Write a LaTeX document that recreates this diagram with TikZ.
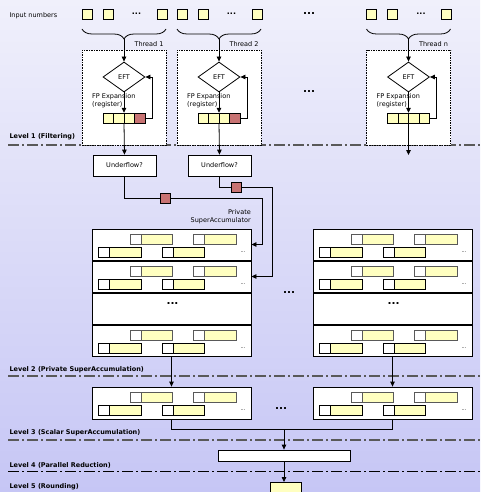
\documentclass[tikz,border=0pt]{standalone}
\usepackage{fontspec}
\setmainfont{DejaVu Sans}
\usetikzlibrary{shapes.geometric,arrows.meta,decorations.pathreplacing}
\definecolor{cellY}{RGB}{255,255,192}
\definecolor{cellR}{RGB}{200,115,115}
\definecolor{bgTop}{RGB}{240,240,251}
\definecolor{bgBot}{RGB}{198,198,245}
\begin{document}
\begin{tikzpicture}[x=1pt,y=-1pt,
  font=\fontsize{6.5}{8}\selectfont,
  arr/.style={-{Triangle[length=5pt,width=4.5pt]}, line width=0.8pt},
  conn/.style={line width=0.8pt},
  cellbox/.style={draw=black, line width=0.8pt, fill=cellY, minimum width=10pt, minimum height=10pt, inner sep=0pt},
  regcell/.style={draw=black, line width=0.8pt, fill=cellY, minimum width=10.5pt, minimum height=10pt, inner sep=0pt},
  thbox/.style={draw=black, fill=white, dash pattern=on 1.5pt off 1pt, line width=0.7pt, minimum width=84pt, minimum height=95pt, inner sep=0pt},
  ufbox/.style={draw=black, fill=white, line width=0.8pt, minimum width=63pt, minimum height=21pt, inner sep=0pt},
  sarowbox/.style={draw=black, fill=white, line width=0.8pt, minimum width=159pt, minimum height=31pt, inner sep=0pt},
  lvline/.style={draw=black!65, line width=1.2pt, dash pattern=on 11pt off 3pt on 2pt off 3pt},
  lvtext/.style={anchor=west, font=\fontsize{6.5}{8}\selectfont\bfseries},
  bigdots/.style={anchor=base, font=\fontsize{10.5}{10.5}\selectfont\bfseries, inner sep=0pt},
  smalldots/.style={anchor=base, font=\fontsize{8}{8}\selectfont\bfseries, inner sep=0pt},
  updraw/.style={draw=black!65, line width=0.8pt},
  lowdraw/.style={draw=black, line width=0.8pt},
  cells/.pic={
    \draw[updraw, fill=white] (38,5) rectangle (49,15);
    \draw[updraw, fill=cellY] (49,5) rectangle (80,15);
    \draw[updraw, fill=white] (101,5) rectangle (112,15);
    \draw[updraw, fill=cellY] (112,5) rectangle (144,15);
    \draw[lowdraw, fill=white] (6,18) rectangle (17,28);
    \draw[lowdraw, fill=cellY] (17,18) rectangle (49,28);
    \draw[lowdraw, fill=white] (70,18) rectangle (81,28);
    \draw[lowdraw, fill=cellY] (81,18) rectangle (112,28);
    \node[anchor=base, inner sep=0pt, font=\fontsize{5}{5}\selectfont] at (151,23) {...};
  }
]
\useasboundingbox (0,0) rectangle (480,492);
\shade[top color=bgTop, bottom color=bgBot] (0,0) rectangle (480,492);

% level lines
\draw[lvline] (8,145) -- (480,145);
\draw[lvline] (8,376) -- (480,376);
\draw[lvline] (8,440) -- (480,440);
\draw[lvline, draw=black, line width=1pt] (8,471) -- (480,471);
\node[lvtext] (lv1) at (6,137) {Level 1 (Filtering)};
\node[lvtext] (lv2) at (6,370) {Level 2 (Private SuperAccumulation)};
\node[lvtext] (lv3) at (6,433) {Level 3 (Scalar SuperAccumulation)};
\node[lvtext] (lv4) at (6,465) {Level 4 (Parallel Reduction)};
\node[lvtext] (lv5) at (6,487) {Level 5 (Rounding)};

\node[anchor=west] (inlab) at (6,16) {Input numbers};

% threads
\foreach \cx/\t/\lab/\lastc in {124/1/Thread 1/cellR, 219/2/Thread 2/cellR, 408.5/3/Thread n/cellY}{
  \node[thbox] (box\t) at (\cx,97.5) {};
  \node[cellbox] (in\t a) at (\cx-37,14) {};
  \node[cellbox] (in\t b) at (\cx-16,14) {};
  \node[smalldots] (in\t d) at (\cx+12.5,15) {...};
  \node[cellbox] (in\t c) at (\cx+38,14) {};
  \draw[line width=0.8pt, decorate, decoration={brace, amplitude=10pt, mirror}] (\cx-42,29) -- (\cx+42,29);
  \coordinate (tip\t) at (\cx,39);
  \node[anchor=east] (thl\t) at (\cx+43,44) {\lab};
  \node[diamond, draw, fill=white, line width=0.8pt, minimum width=42pt, minimum height=30pt, aspect=1.4, inner sep=0pt] (eft\t) at (\cx,77) {EFT};
  \node[anchor=west, align=left, inner sep=0pt] (fp\t) at (\cx-32,101) {FP Expansion\\(register)};
  \node[minimum width=42pt, minimum height=10pt, inner sep=0pt] (reg\t) at (\cx,118) {};
  \node[regcell] (reg\t a) at (\cx-15.75,118) {};
  \node[regcell] (reg\t b) at (\cx-5.25,118) {};
  \node[regcell] (reg\t c) at (\cx+5.25,118) {};
  \node[regcell, fill=\lastc] (reg\t d) at (\cx+15.75,118) {};
  \draw[arr] (tip\t) -- (eft\t.north);
  \draw[arr] (eft\t.south) -- (reg\t.north);
  \draw[arr] (reg\t.east) -- ++(7,0) |- (eft\t.east);
}
\node[bigdots] (topdots) at (309,15) {...};
\node[bigdots] (middots) at (309,93) {...};

% underflow
\node[ufbox] (uf1) at (124.5,165.5) {Underflow?};
\node[ufbox] (uf2) at (219.5,165.5) {Underflow?};
\draw[arr] (reg1.south) -- (uf1.north);
\draw[arr] (reg2.south) -- (uf2.north);
\coordinate (end3) at (408.5,155);
\draw[arr] (reg3.south) -- (end3);

% super accumulators
\foreach \s/\sx in {1/171.5, 2/392.5}{
  \foreach \r/\ry in {1/244.5, 2/276.5, 3/308.5, 4/340.5}{
    \node[sarowbox] (sa\s r\r) at (\sx,\ry) {};
  }
  \pic at (\sx-79.5,229) {cells};
  \pic at (\sx-79.5,261) {cells};
  \pic at (\sx-79.5,325) {cells};
  \node[bigdots] (sadots\s) at (\sx+1,304) {...};
}
\node[bigdots] (betsa) at (289,293.5) {...};
\node[anchor=east, align=right, inner sep=0pt] (psa) at (251,216.5) {Private\\SuperAccumulator};

\coordinate (j1) at (262,198);
\coordinate (j2) at (272,187);
\draw[arr] (uf1.south) |- (j1) |- (sa1r1.east);
\draw[arr] (uf2.south) |- (j2) |- (sa1r2.east);
\node[cellbox, fill=cellR] (rs1) at (165,198) {};
\node[cellbox, fill=cellR] (rs2) at (236.5,187) {};

% level 3
\node[draw=black, fill=white, line width=0.8pt, minimum width=159pt, minimum height=32pt, inner sep=0pt] (l3a) at (171.5,403) {};
\node[draw=black, fill=white, line width=0.8pt, minimum width=159pt, minimum height=32pt, inner sep=0pt] (l3b) at (392.5,403) {};
\pic at (92,387) {cells};
\pic at (313,387) {cells};
\node[bigdots] (betl3) at (281,409) {...};
\draw[arr] (sa1r4.south) -- (l3a.north);
\draw[arr] (sa2r4.south) -- (l3b.north);

% reduction
\node[draw=black, fill=white, line width=0.8pt, minimum width=132pt, minimum height=11pt, inner sep=0pt] (redbox) at (284,455.5) {};
\coordinate (mj) at (284,429);
\draw[conn] (l3a.south) |- (mj);
\draw[conn] (l3b.south) |- (mj);
\draw[arr] (mj) -- (redbox.north);
\node[draw=black, fill=cellY, line width=0.8pt, minimum width=31pt, minimum height=16pt, inner sep=0pt, anchor=north] (fin) at (285.5,482) {};
\draw[arr] (redbox.south) -- (redbox.south |- fin.north);
\end{tikzpicture}
\end{document}
